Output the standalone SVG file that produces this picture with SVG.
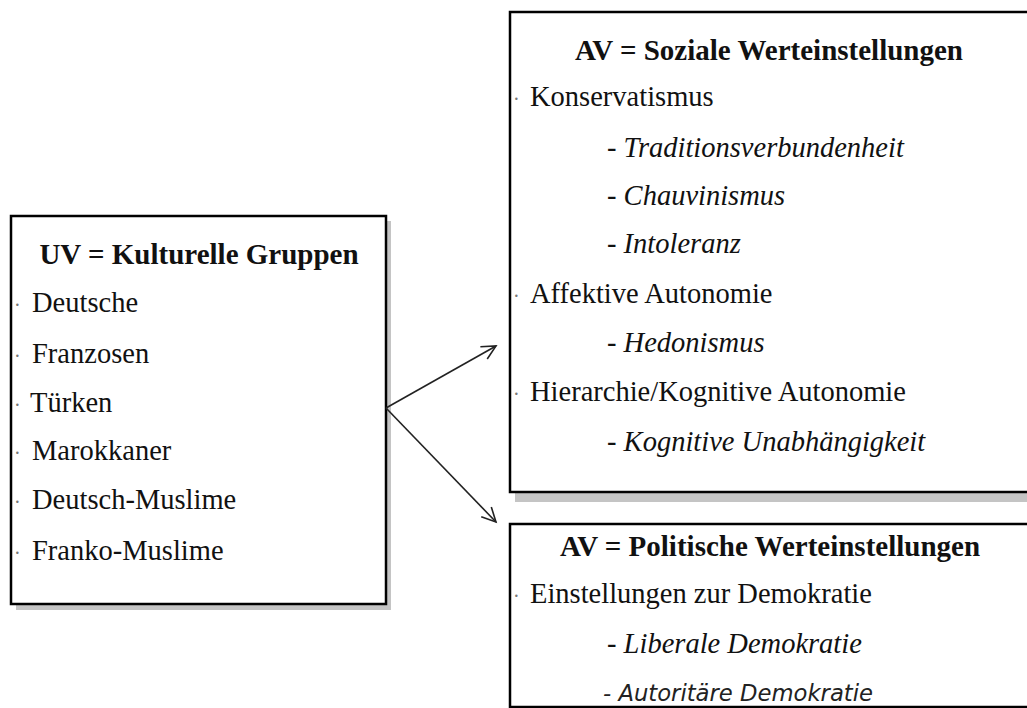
<svg xmlns="http://www.w3.org/2000/svg" width="1027" height="708" viewBox="0 0 1027 708">
<defs>
<marker id="arr" markerWidth="20" markerHeight="20" refX="16" refY="8" orient="auto" markerUnits="userSpaceOnUse">
<path d="M2,1 L16,8 L2,15" fill="none" stroke="#222" stroke-width="1.6"/>
</marker>
</defs>
<style>
.box{fill:#fff;stroke:#000;stroke-width:2.5}
.shadow{fill:#c4c4c4}
.t{font-family:"Liberation Serif","Times New Roman",serif;font-size:28.5px;fill:#111}
.b{font-weight:bold;font-size:29px}
.i{font-style:italic}
.bul{font-family:"Liberation Serif",serif;font-size:20px;fill:#777}
.sans{font-family:"DejaVu Sans","Verdana",sans-serif;font-style:italic;font-size:22.7px;fill:#222}
.conn{stroke:#222;stroke-width:1.6;fill:none}
</style>
<rect width="1027" height="708" fill="#fff"/>

<g id="node-uv">
<rect class="shadow" x="16" y="221" width="375" height="389"/>
<rect class="box" x="11" y="216" width="375" height="388"/>
<text class="t b" x="199" y="264" text-anchor="middle">UV = Kulturelle Gruppen</text>
<text class="bul" x="14" y="312">·</text><text class="t" x="32" y="312">Deutsche</text>
<text class="bul" x="14" y="363">·</text><text class="t" x="32" y="363">Franzosen</text>
<text class="bul" x="14" y="412">·</text><text class="t" x="30" y="412">Türken</text>
<text class="bul" x="14" y="460">·</text><text class="t" x="32" y="460">Marokkaner</text>
<text class="bul" x="14" y="509">·</text><text class="t" x="32" y="509">Deutsch-Muslime</text>
<text class="bul" x="14" y="560">·</text><text class="t" x="32" y="560">Franko-Muslime</text>
</g>

<g id="node-av-sozial">
<rect class="shadow" x="515" y="17" width="530" height="485"/>
<rect class="box" x="510" y="12" width="540" height="480"/>
<text class="t b" x="769" y="60" text-anchor="middle">AV = Soziale Werteinstellungen</text>
<text class="bul" x="513" y="106">·</text><text class="t" x="530" y="106">Konservatismus</text>
<text class="t i" x="607" y="157">- Traditionsverbundenheit</text>
<text class="t i" x="607" y="205">- Chauvinismus</text>
<text class="t i" x="607" y="253">- Intoleranz</text>
<text class="bul" x="513" y="303">·</text><text class="t" x="530" y="303">Affektive Autonomie</text>
<text class="t i" x="607" y="352">- Hedonismus</text>
<text class="bul" x="513" y="401">·</text><text class="t" x="530" y="401">Hierarchie/Kognitive Autonomie</text>
<text class="t i" x="607" y="451">- Kognitive Unabhängigkeit</text>
</g>

<g id="node-av-politisch">
<rect class="box" x="510" y="524" width="540" height="183"/>
<text class="t b" x="770" y="556" text-anchor="middle">AV = Politische Werteinstellungen</text>
<text class="bul" x="513" y="603">·</text><text class="t" x="530" y="603">Einstellungen zur Demokratie</text>
<text class="t i" x="607" y="653">- Liberale Demokratie</text>
<text class="sans" x="603" y="701">- Autoritäre Demokratie</text>
</g>

<g id="connectors">
<line class="conn" x1="386" y1="408" x2="496" y2="346" marker-end="url(#arr)"/>
<line class="conn" x1="386" y1="408" x2="496" y2="522" marker-end="url(#arr)"/>
</g>
</svg>
